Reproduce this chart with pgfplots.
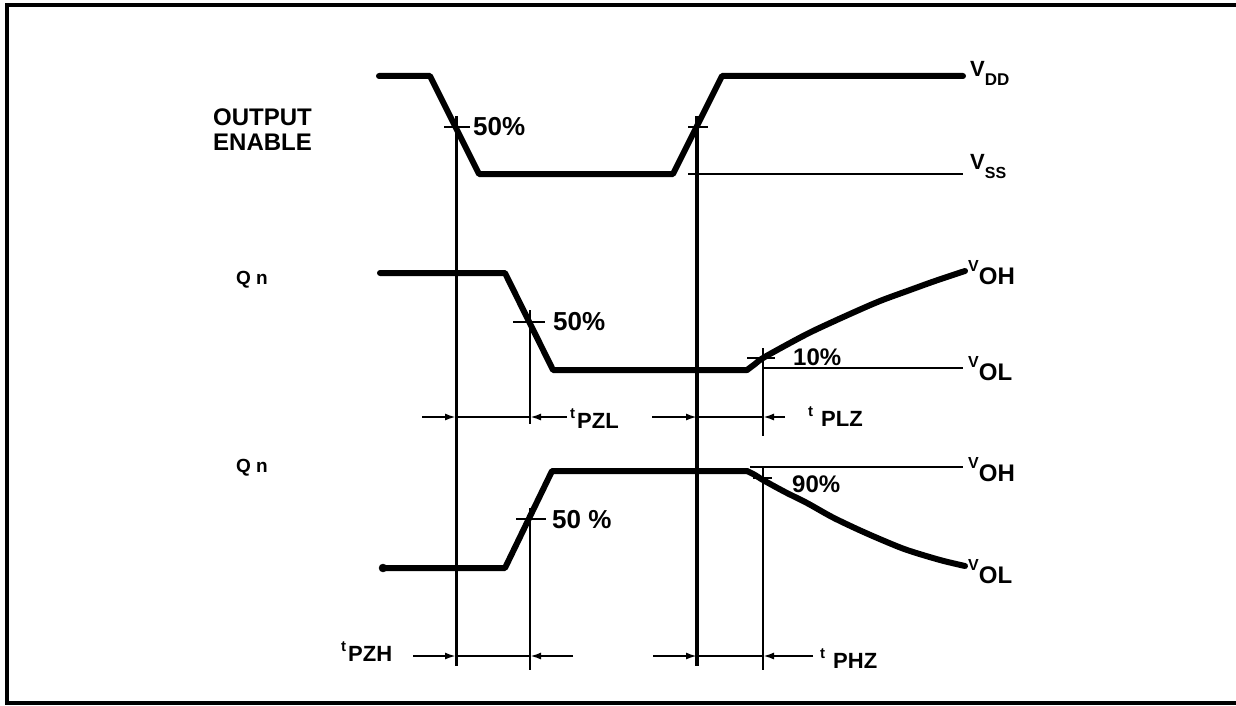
\documentclass[border=0pt]{standalone}
\usepackage{pgfplots}
\pgfplotsset{compat=1.18}
\usetikzlibrary{arrows.meta}
\usepackage{fontspec}
\setmainfont{Liberation Sans}

\tikzset{
 wave/.style={black, line width=6pt, line join=round, line cap=round, mark=none},
 thinl/.style={black, line width=2pt, mark=none},
 arr/.style={black, line width=2pt, mark=none, -{Latex[length=11pt,width=7pt]}},
 lab/.style={font=\bfseries\fontsize{24}{24}\selectfont, inner sep=0pt, anchor=west},
 blab/.style={font=\bfseries\fontsize{22}{22}\selectfont, inner sep=0pt, anchor=base west},
}
\newcommand{\tl}[2]{\raisebox{10pt}{\fontsize{15}{15}\selectfont t}\hspace{#1}#2}
\newcommand{\vlo}[1]{\raisebox{13pt}{\fontsize{16}{16}\selectfont V}{\fontsize{24}{24}\selectfont #1}}

\begin{document}
\begin{tikzpicture}
\path[use as bounding box] (0,0) rectangle (1236pt,706pt);
\begin{axis}[scale only axis, width=1236pt, height=706pt,
  xmin=0, xmax=1236, ymin=0, ymax=706, y dir=reverse,
  hide axis, clip=false, at={(0,0)}, anchor=south west]

% frame
\addplot[black, line width=3.5pt, mark=none] coordinates {(1236,5) (7,5) (7,703) (1236,703)};

% OUTPUT ENABLE waveform
\addplot[wave] coordinates {(379,76) (430,76) (479,174) (673,174) (722,76) (963,76)};
% Qn (1)
\addplot[wave] coordinates {(380,273) (505,273) (553,370) (747,370)};
\addplot[wave, smooth] coordinates {(747,370) (755,364) (763,358) (790,343) (813,331) (850,314) (880,301) (910,290) (935,281) (965,271)};
% Qn (2)
\addplot[wave] coordinates {(383,568) (505,568) (552,471) (747,471)};
\addplot[wave, smooth] coordinates {(747,471) (755,475) (763,480) (785,492) (807,503) (832,517) (857,529) (882,540) (907,550) (940,560) (965,566)};
\addplot[only marks, mark=*, mark size=4pt, black] coordinates {(383,568)};

% reference levels
\addplot[thinl] coordinates {(688,174) (963,174)};
\addplot[thinl] coordinates {(763,368) (963,368)};
\addplot[thinl] coordinates {(750,467) (963,467)};

% crossing ticks
\addplot[thinl] coordinates {(444,127) (470,127)};
\addplot[thinl] coordinates {(688,127) (708,127)};
\addplot[thinl] coordinates {(513,322) (545,322)};
\addplot[thinl] coordinates {(747,358) (775,358)};
\addplot[thinl] coordinates {(516,519) (546,519)};
\addplot[thinl] coordinates {(753,478) (772,478)};

% vertical reference lines
\addplot[black, line width=3pt, mark=none] coordinates {(456,116) (456,666)};
\addplot[black, line width=4pt, mark=none] coordinates {(697,116) (697,666)};
\addplot[black, line width=2.6pt, mark=none] coordinates {(530,310) (530,424)};
\addplot[black, line width=2.6pt, mark=none] coordinates {(530,508) (530,670)};
\addplot[black, line width=2pt, mark=none] coordinates {(763,348) (763,436)};
\addplot[black, line width=2pt, mark=none] coordinates {(763,466) (763,670)};

% timing arrows, row 1
\addplot[arr] coordinates {(422,417) (456,417)};
\addplot[thinl] coordinates {(456,417) (530,417)};
\addplot[arr] coordinates {(567,417) (530,417)};
\addplot[arr] coordinates {(652,417) (697,417)};
\addplot[thinl] coordinates {(697,417) (763,417)};
\addplot[arr] coordinates {(785,417) (763,417)};
% timing arrows, row 2
\addplot[arr] coordinates {(413,656) (456,656)};
\addplot[thinl] coordinates {(456,656) (530,656)};
\addplot[arr] coordinates {(573,656) (530,656)};
\addplot[arr] coordinates {(653,656) (697,656)};
\addplot[thinl] coordinates {(697,656) (763,656)};
\addplot[arr] coordinates {(813,656) (763,656)};

% left labels
\node[lab] at (axis cs:213,117) {OUTPUT};
\node[lab] at (axis cs:213,142) {ENABLE};
\node[lab, font=\bfseries\fontsize{19}{19}\selectfont] at (axis cs:236,280) {Q n};
\node[lab, font=\bfseries\fontsize{19}{19}\selectfont] at (axis cs:236,468) {Q n};

% percentage labels
\node[lab, font=\bfseries\fontsize{26}{26}\selectfont] at (axis cs:473,127) {50\%};
\node[lab, font=\bfseries\fontsize{26}{26}\selectfont] at (axis cs:553,322) {50\%};
\node[lab, font=\bfseries\fontsize{26}{26}\selectfont] at (axis cs:552,520) {50 \%};
\node[lab, font=\bfseries\fontsize{24}{24}\selectfont] at (axis cs:793,357) {10\%};
\node[lab, font=\bfseries\fontsize{24}{24}\selectfont] at (axis cs:792,484) {90\%};

% timing labels
\node[blab] at (axis cs:570,428) {\tl{2pt}{PZL}};
\node[blab] at (axis cs:808,426) {\tl{8pt}{PLZ}};
\node[blab] at (axis cs:341,661) {\tl{2pt}{PZH}};
\node[blab] at (axis cs:820,668) {\tl{8pt}{PHZ}};

% level labels
\node[blab] at (axis cs:970,77) {V\raisebox{-9pt}{\fontsize{17}{17}\selectfont DD}};
\node[blab] at (axis cs:970,169) {V\raisebox{-9pt}{\fontsize{16}{16}\selectfont SS}};
\node[blab] at (axis cs:968,284) {\vlo{OH}};
\node[blab] at (axis cs:968,380) {\vlo{OL}};
\node[blab] at (axis cs:968,481) {\vlo{OH}};
\node[blab] at (axis cs:968,583) {\vlo{OL}};

\end{axis}
\end{tikzpicture}
\end{document}
